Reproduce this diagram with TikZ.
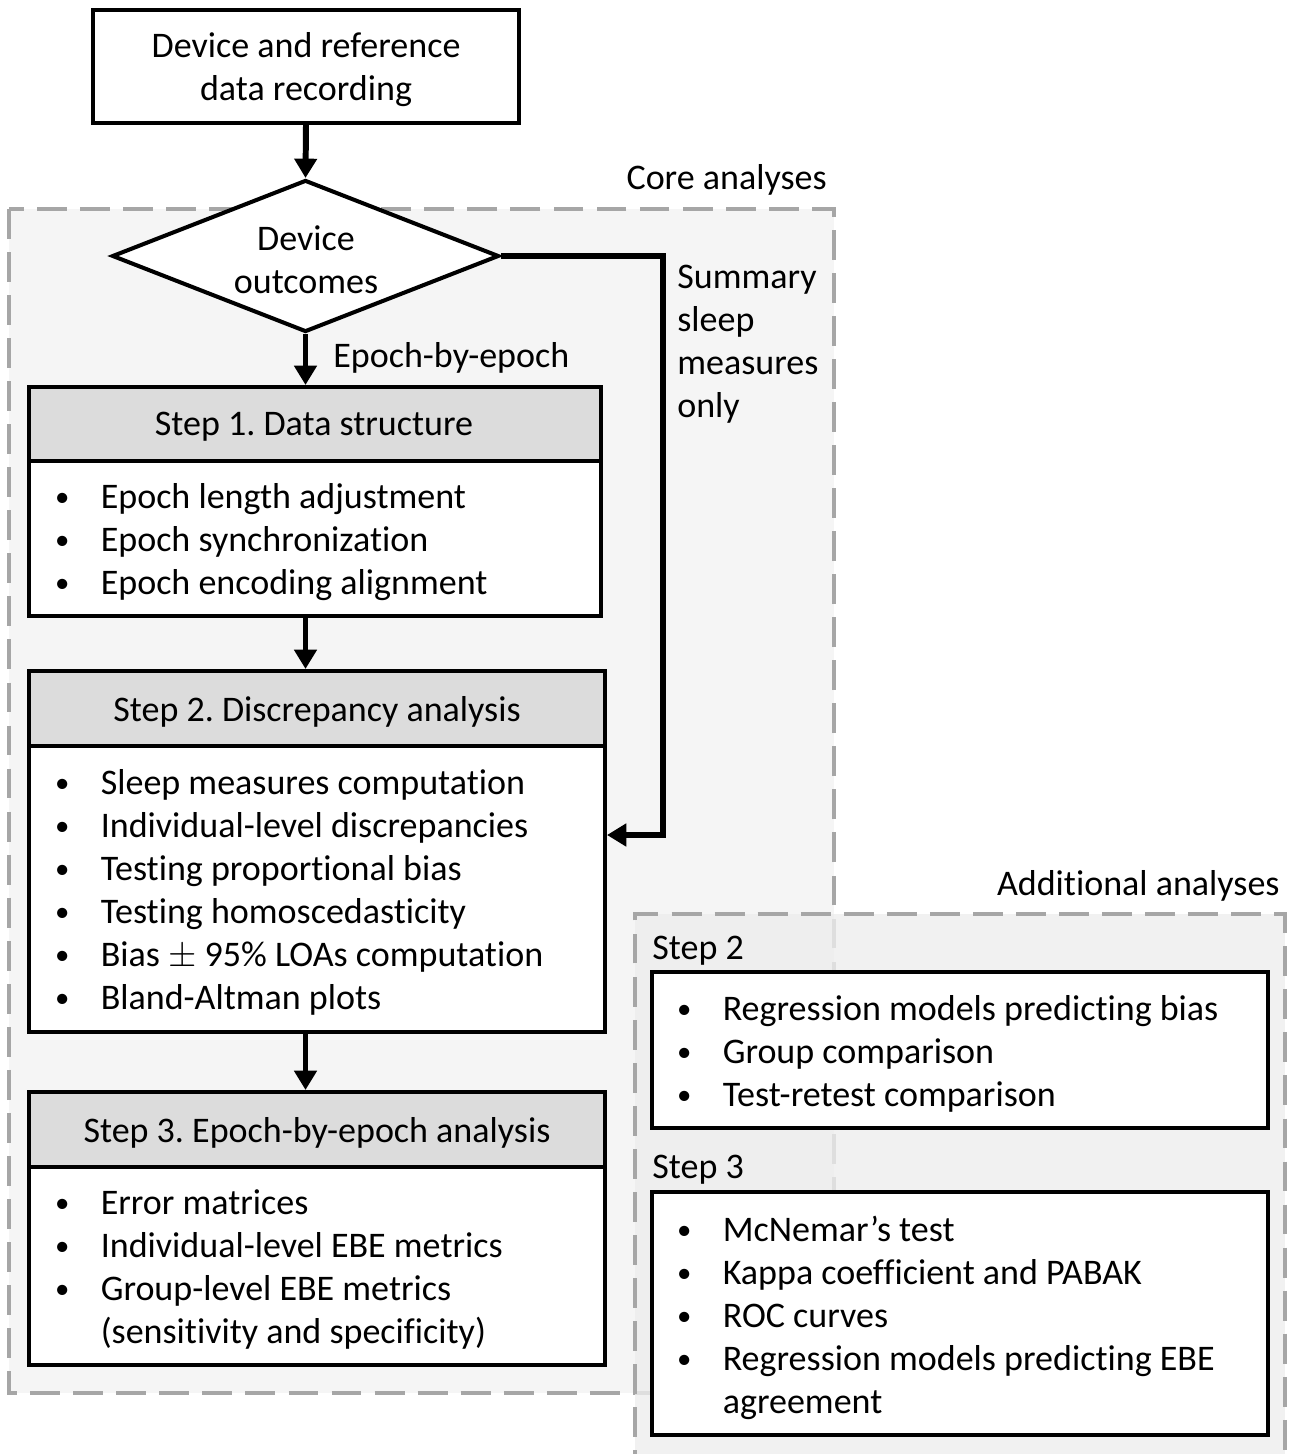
\documentclass[tikz,border=0pt]{standalone}
\usepackage{fontspec}
\setmainfont{Carlito}[Ligatures=NoCommon]
\usetikzlibrary{shapes.geometric,arrows.meta,calc}
\definecolor{dashgray}{HTML}{A6A6A6}
\definecolor{corefill}{HTML}{F5F5F5}
\definecolor{addfill}{HTML}{EDEDED}
\definecolor{headfill}{HTML}{DCDCDC}
\newcommand\bl[1]{\makebox[27pt][l]{\hspace{1pt}\raisebox{1.2pt}{\scalebox{0.8}{\textbullet}}}#1}
\frenchspacing
\begin{document}
\begin{tikzpicture}[x=0.02cm,y=-0.02cm,
  every node/.style={font=\fontsize{20.5}{24.4}\selectfont, inner sep=0pt},
  box/.style={draw, line width=2.3pt, fill=white},
  head/.style={draw, line width=2.3pt, fill=headfill},
  group/.style={draw=dashgray, line width=2.4pt, dash pattern=on 17pt off 7.5pt},
  flow/.style={line width=3.4pt, -{Triangle[length=11pt,width=12.5pt]}},
  list/.style={align=left, anchor=west}
]
\useasboundingbox (0,0) rectangle (1291,1454);
\clip (0,0) rectangle (1291,1454);
% groups
\draw[group, fill=corefill] (9,209) rectangle (834,1393);
\fill[addfill, opacity=0.8] (635,914) rectangle (1285,1480);
\draw[group] (635,1480) -- (635,914) -- (1285,914) -- (1285,1480);
% labels
\node[anchor=east] (core) at (827,180) {Core analyses};
\node[anchor=east] (add) at (1280,886) {Additional analyses};
% top box and decision
\node[box, minimum width=8.52cm, minimum height=2.26cm] (rec) at (306,66.5) {};
\node[align=center] (rect) at (306,70) {Device and reference\\data recording};
\node[draw, diamond, line width=2.3pt, fill=white, aspect=2.55, minimum width=7.74cm, minimum height=3.04cm] (dia) at (305.5,256) {};
\node[align=center] (diat) at (306,260) {Device\\outcomes};
\node[anchor=west] (ebe) at (333,358) {Epoch-by-epoch};
\node[anchor=west, align=left] (sum) at (677,344.5) {Summary\\sleep\\measures\\only};
% step 1
\node[head, minimum width=11.44cm, minimum height=1.48cm] (h1) at (315,424) {};
\node (t1) at (314,427) {Step 1. Data structure};
\node[box, minimum width=11.44cm, minimum height=3.1cm] (b1) at (315,538.5) {};
\node[list] (l1) at (53,542) {\bl{Epoch length adjustment}\\\bl{Epoch synchronization}\\\bl{Epoch encoding alignment}};
% step 2
\node[head, minimum width=11.52cm, minimum height=1.5cm] (h2) at (317,708.5) {};
\node (t2) at (317,711.5) {Step 2. Discrepancy analysis};
\node[box, minimum width=11.52cm, minimum height=5.72cm] (b2) at (317,889) {};
\node[list] (l2) at (53,892.5) {\bl{Sleep measures computation}\\\bl{Individual-level discrepancies}\\\bl{Testing proportional bias}\\\bl{Testing homoscedasticity}\\\bl{Bias $\pm$ 95\% LOAs computation}\\\bl{Bland-Altman plots}};
% step 3
\node[head, minimum width=11.52cm, minimum height=1.5cm] (h3) at (317,1129.5) {};
\node (t3) at (317,1132.5) {Step 3. Epoch-by-epoch analysis};
\node[box, minimum width=11.52cm, minimum height=3.96cm] (b3) at (317,1266) {};
\node[list] (l3) at (53,1269.5) {\bl{Error matrices}\\\bl{Individual-level EBE metrics}\\\bl{Group-level EBE metrics}\\\hspace*{27pt}(sensitivity and specificity)};
% additional
\node[anchor=west] (s2) at (652,951) {Step 2};
\node[box, minimum width=12.32cm, minimum height=3.12cm] (a2) at (960,1050) {};
\node[list] (la2) at (675,1054) {\bl{Regression models predicting bias}\\\bl{Group comparison}\\\bl{Test-retest comparison}};
\node[anchor=west] (s3) at (652,1170) {Step 3};
\node[box, minimum width=12.32cm, minimum height=4.86cm] (a3) at (960,1313.5) {};
\node[list] (la3) at (675,1318) {\bl{McNemar’s test}\\\bl{Kappa coefficient and PABAK}\\\bl{ROC curves}\\\bl{Regression models predicting EBE}\\\hspace*{27pt}agreement};
% connectors
\draw[flow] (rec.south) -- (dia.north);
\draw[flow] (dia.south) -- (h1.north -| dia.south);
\draw[flow] (b1.south -| dia.south) -- (h2.north -| dia.south);
\draw[flow] (b2.south -| dia.south) -- (h3.north -| dia.south);
\coordinate (turn) at (663,835);
\draw[flow] (dia.east) -| (turn) -- (turn -| b2.east);
\end{tikzpicture}
\end{document}
